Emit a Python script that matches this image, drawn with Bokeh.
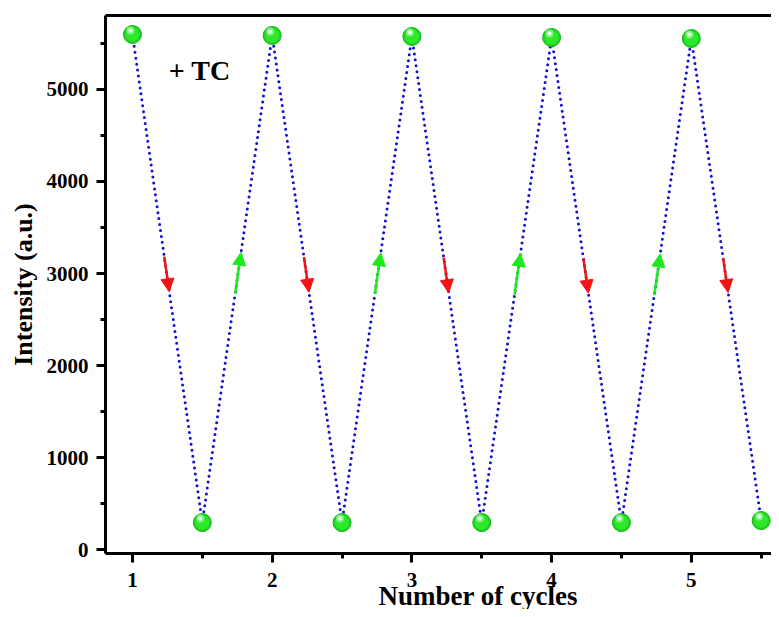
from bokeh.plotting import figure
from bokeh.models import Range1d, LinearAxis, Label, Arrow, NormalHead, ColumnDataSource, FixedTicker, Title
from bokeh.embed import file_html
from bokeh.resources import INLINE

# ---- data ----
cycles = [1, 1.5, 2, 2.5, 3, 3.5, 4, 4.5, 5, 5.5]
intensity = [5598, 293, 5587, 293, 5576, 293, 5565, 293, 5554, 315]
x_ticks = [1, 2, 3, 4, 5]
y_ticks = [0, 1000, 2000, 3000, 4000, 5000]
x_title = "Number of cycles"
y_title = "Intensity (a.u.)"
note_text = "+ TC"

FONT = "Liberation Serif"

p = figure(width=771, height=609, output_backend="svg", toolbar_location=None,
           x_range=Range1d(0.807, 5.574), y_range=Range1d(-43, 5804),
           min_border_left=105, min_border_right=0, min_border_top=15, min_border_bottom=56)
p.xgrid.visible = False
p.ygrid.visible = False
p.outline_line_color = None
p.background_fill_color = "white"
p.border_fill_color = "white"

# axes styling
for ax in (p.xaxis[0], p.yaxis[0]):
    ax.axis_line_width = 3
    ax.axis_line_color = "black"
    ax.major_tick_line_width = 3
    ax.minor_tick_line_width = 3
    ax.major_tick_in = 0
    ax.minor_tick_in = 0
    ax.major_tick_out = 9
    ax.minor_tick_out = 5
    ax.major_label_text_font = FONT
    ax.major_label_text_font_style = "bold"
    ax.major_label_text_font_size = "21px"
    ax.major_label_text_color = "black"
    ax.axis_label_text_font = FONT
    ax.axis_label_text_font_style = "bold"
    ax.axis_label_text_color = "black"

p.xaxis[0].ticker = FixedTicker(ticks=x_ticks, minor_ticks=[t + 0.5 for t in x_ticks])
p.yaxis[0].ticker = FixedTicker(ticks=y_ticks, minor_ticks=[t + 500 for t in y_ticks])
p.xaxis[0].major_label_standoff = 10
p.yaxis[0].major_label_standoff = 8
p.yaxis[0].axis_label = y_title
p.yaxis[0].axis_label_text_font_size = "26px"
p.yaxis[0].axis_label_standoff = 6

# top frame line
top = LinearAxis(ticker=FixedTicker(ticks=[]), axis_line_width=3, axis_line_color="black",
                 major_tick_line_color=None, minor_tick_line_color=None,
                 major_label_text_font_size="0px", major_label_standoff=0,
                 major_tick_out=0, minor_tick_out=0)
p.add_layout(top, "above")

# x axis title, offset to sit where the reference puts it
p.add_layout(Title(text=x_title, align="left", offset=273, standoff=-22,
                   text_font=FONT, text_font_style="bold", text_font_size="27px",
                   text_color="black"), "below")

# dotted connecting line
p.line(cycles, intensity, line_color="#1010d0", line_width=3, line_dash="0 6", line_cap="round")

# arrows along segments
red = dict(x0=[], y0=[], x1=[], y1=[])
green = dict(x0=[], y0=[], x1=[], y1=[])
for i in range(len(cycles) - 1):
    xa, ya, xb, yb = cycles[i], intensity[i], cycles[i + 1], intensity[i + 1]
    if yb < ya:
        t0, t1, d = 0.455, 0.527, red
    else:
        t0, t1, d = 0.47, 0.555, green
    d["x0"].append(xa + (xb - xa) * t0)
    d["y0"].append(ya + (yb - ya) * t0)
    d["x1"].append(xa + (xb - xa) * t1)
    d["y1"].append(ya + (yb - ya) * t1)

for d, col in ((red, "#f01414"), (green, "#1ee81e")):
    p.add_layout(Arrow(source=ColumnDataSource(d), x_start="x0", y_start="y0", x_end="x1", y_end="y1",
                       line_color=col, line_width=2.5,
                       end=NormalHead(size=13, fill_color=col, line_color=col, line_width=1)))

# green sphere markers
p.scatter(cycles, intensity, size=18, fill_color="#1fd41f", line_color="#17b517", line_width=1)
p.scatter(cycles, intensity, size=14, fill_color="#2ee82e", line_color=None)
dx = 2.0 / 139.7
dy = 4.0 / 0.092
p.scatter([c - dx for c in cycles], [v + dy for v in intensity], size=8, fill_color="#7cf57c", line_color=None)
p.scatter([c - dx for c in cycles], [v + dy for v in intensity], size=4, fill_color="#e8ffe8", line_color=None)

# annotation text
p.add_layout(Label(x=1.26, y=5207, text=note_text, text_font=FONT, text_font_style="bold",
                   text_font_size="28px", text_baseline="middle", text_align="left", text_color="black"))

open("out.html", "w").write(file_html(p, INLINE))
